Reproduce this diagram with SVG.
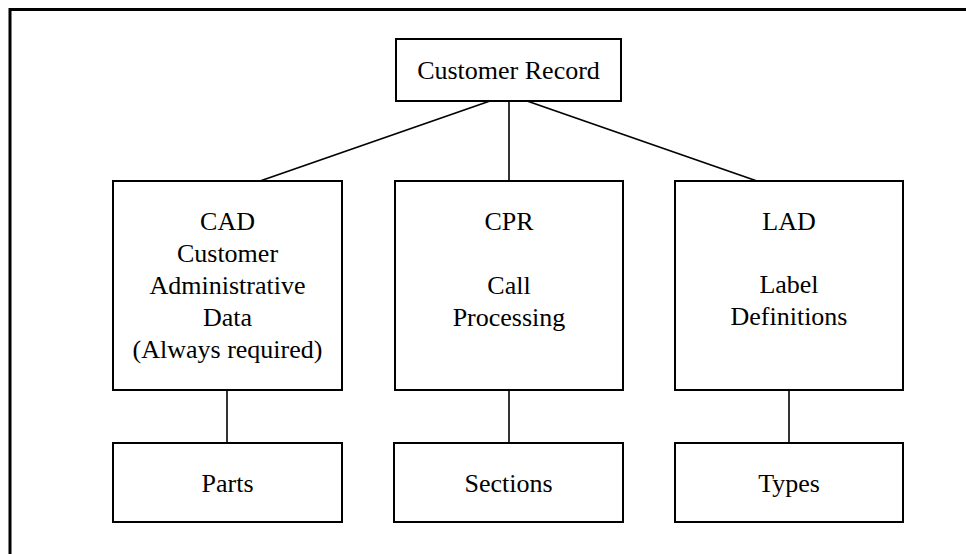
<svg xmlns="http://www.w3.org/2000/svg" width="966" height="554" viewBox="0 0 966 554">
  <style>
    .box { fill: #ffffff; stroke: #000000; stroke-width: 2; }
    .link { stroke: #000000; stroke-width: 1.6; fill: none; }
    .frame { stroke: #000000; stroke-width: 3; fill: none; }
    text { font-family: "Liberation Serif", "Times New Roman", serif; font-size: 26px; fill: #000000; text-anchor: middle; }
  </style>
  <rect x="0" y="0" width="966" height="554" fill="#ffffff"/>

  <!-- outer frame, open on the right and bottom -->
  <path class="frame" d="M10 554 V9.5 H966"/>

  <!-- connectors -->
  <g id="connectors">
    <line class="link" x1="490" y1="101" x2="260" y2="181"/>
    <line class="link" x1="509" y1="101" x2="509" y2="181"/>
    <line class="link" x1="527" y1="101" x2="757" y2="181"/>
    <line class="link" x1="227" y1="390" x2="227" y2="443"/>
    <line class="link" x1="509" y1="390" x2="509" y2="443"/>
    <line class="link" x1="789" y1="390" x2="789" y2="443"/>
  </g>

  <g id="customer-record">
    <rect class="box" x="396" y="39" width="225" height="62"/>
    <text x="508.5" y="79">Customer Record</text>
  </g>

  <g id="cad">
    <rect class="box" x="113" y="181" width="229" height="209"/>
    <text x="227.5" y="230">CAD</text>
    <text x="227.5" y="262">Customer</text>
    <text x="227.5" y="294">Administrative</text>
    <text x="227.5" y="326">Data</text>
    <text x="227.5" y="358">(Always required)</text>
  </g>

  <g id="cpr">
    <rect class="box" x="395" y="181" width="228" height="209"/>
    <text x="509" y="230">CPR</text>
    <text x="509" y="294">Call</text>
    <text x="509" y="326">Processing</text>
  </g>

  <g id="lad">
    <rect class="box" x="675" y="181" width="228" height="209"/>
    <text x="789" y="230">LAD</text>
    <text x="789" y="293">Label</text>
    <text x="789" y="325">Definitions</text>
  </g>

  <g id="parts">
    <rect class="box" x="113" y="443" width="229" height="79"/>
    <text x="227.5" y="492">Parts</text>
  </g>

  <g id="sections">
    <rect class="box" x="394" y="443" width="229" height="79"/>
    <text x="508.5" y="492">Sections</text>
  </g>

  <g id="types">
    <rect class="box" x="675" y="443" width="228" height="79"/>
    <text x="789" y="492">Types</text>
  </g>
</svg>
